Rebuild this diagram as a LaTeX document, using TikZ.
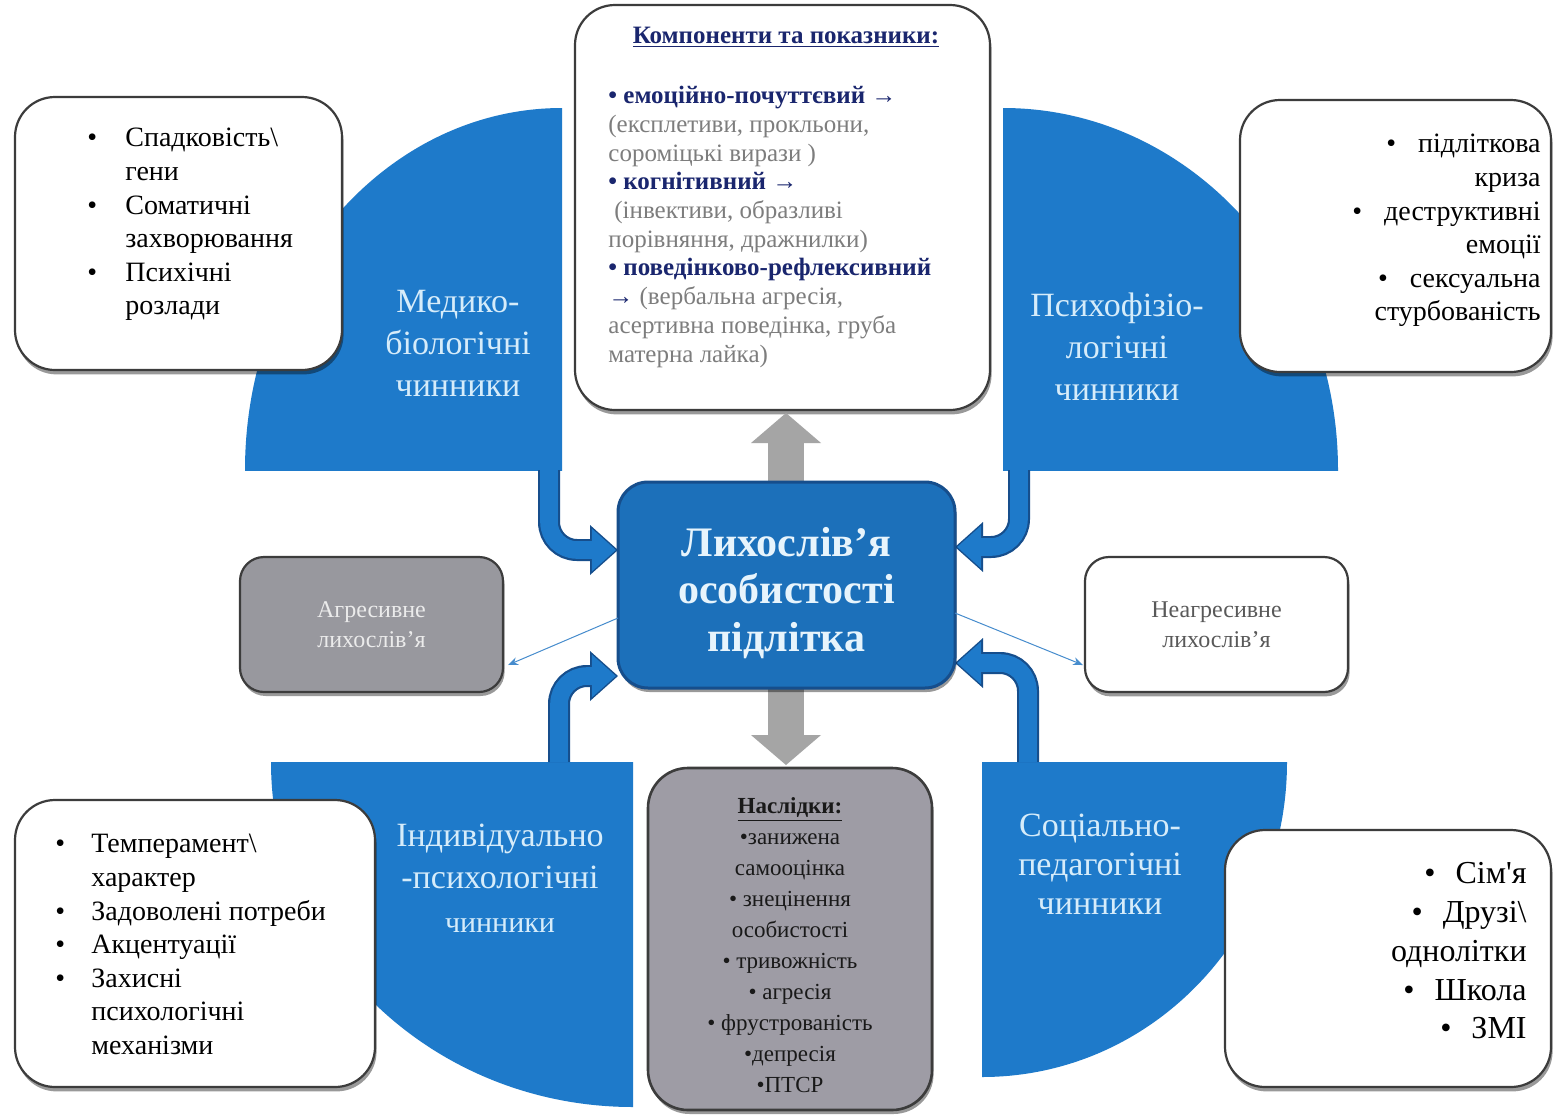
\documentclass[tikz,border=0pt]{standalone}
\usepackage{fontspec}
\setmainfont{Liberation Serif}
\newfontfamily\rawserif{Liberation Serif}
\usetikzlibrary{arrows.meta,shadows}
\definecolor{fblue}{RGB}{30,122,202}
\definecolor{bdark}{RGB}{22,78,140}
\definecolor{ltxt}{RGB}{214,236,250}
\definecolor{navy}{RGB}{26,38,110}
\definecolor{cgray}{RGB}{125,125,125}
\definecolor{agray}{RGB}{165,165,165}
\definecolor{boxgray}{RGB}{152,152,158}
\definecolor{consgray}{RGB}{158,156,165}
\definecolor{edgegray}{RGB}{60,60,60}
\definecolor{thinblue}{RGB}{70,140,205}
\newcommand\bul[2]{\makebox[#1][l]{•}#2}
\newcommand\ind[2]{\hspace*{#1}#2}
\tikzset{
  wbox/.style={draw=edgegray, line width=1.1pt, fill=white, rounded corners=20pt, inner sep=0pt,
    drop shadow={shadow xshift=0.8pt, shadow yshift=-2.2pt, opacity=0.4, fill=black}},
  listtxt/.style={inner sep=0pt, font=\fontsize{14}{16.8}\selectfont, text=black},
  bluetxt/.style={inner sep=0pt, align=center, text=ltxt, font=\fontsize{17}{21}\selectfont},
  bentouter/.style={draw=bdark, line width=11pt, rounded corners=14pt, -{Triangle[length=14pt,width=25pt,line width=0pt]}},
  bentinner/.style={draw=fblue, line width=8.8pt, rounded corners=14pt, shorten >=1.1pt, -{Triangle[length=12pt,width=21.5pt,line width=0pt]}},
  grayarr/.style={draw=agray, line width=18pt, -{Triangle[length=15pt,width=35pt,line width=0pt]}},
  thinarr/.style={draw=thinblue, line width=0.5pt, -{Stealth[length=5pt,width=4pt]}},
}
\begin{document}
\begin{tikzpicture}[x=0.5pt,y=-0.5pt]
\useasboundingbox (0,0) rectangle (1553,1114);
\fill[white] (0,0) rectangle (1553,1114);
% blue quarter shapes
\begin{scope}\clip (0,0) rectangle (562,470); \fill[fblue] (562,470) ellipse [x radius=317, y radius=362]; \end{scope}
\begin{scope}\clip (1003,0) rectangle (1553,470); \fill[fblue] (1003,470) ellipse [x radius=335, y radius=362]; \end{scope}
\begin{scope}\clip (0,762) rectangle (633,1114); \fill[fblue] (633,762) ellipse [x radius=362, y radius=345]; \end{scope}
\begin{scope}\clip (982,762) rectangle (1553,1114); \fill[fblue] (982,762) ellipse [x radius=305, y radius=315]; \end{scope}
% texts in blue shapes
\node[bluetxt] (medt) at (458,343) {Медико-\\біологічні\\чинники};
\node[bluetxt] (psyt) at (1117,347) {Психофізіо-\\логічні\\чинники};
\node[bluetxt, anchor=north] (indt) at (500,824) {Індивідуально\\-психологічні\\[1pt]{\fontsize{15}{18}\selectfont чинники}};
\node[bluetxt, font=\fontsize{17}{19.5}\selectfont] (soct) at (1100,864) {Соціально-\\педагогічні\\чинники};
% white boxes
\node[wbox, minimum width=163.5pt, minimum height=136.5pt] (tlbox) at (178.5,233.5) {};
\node[wbox, minimum width=207.5pt, minimum height=202.5pt] (comp) at (782.5,207.5) {};
\node[wbox, minimum width=155.5pt, minimum height=136pt] (trbox) at (1395.5,236) {};
\node[wbox, minimum width=180pt, minimum height=143.5pt] (blbox) at (195,943.5) {};
\node[wbox, minimum width=163pt, minimum height=128.5pt] (brbox) at (1388,958.5) {};
% lists
\node[listtxt, align=left, anchor=north west] (tlt) at (87,128) {\bul{19pt}{Спадковість\textbackslash}\\\ind{19pt}{гени}\\\bul{19pt}{Соматичні}\\\ind{19pt}{захворювання}\\\bul{19pt}{Психічні}\\\ind{19pt}{розлади}};
\node[listtxt, align=right, anchor=north east] (trt) at (1541,134) {•\hspace{11pt}підліткова\\криза\\•\hspace{11pt}деструктивні\\емоції\\•\hspace{11pt}сексуальна\\стурбованість};
\node[listtxt, align=left, anchor=north west] (blt) at (55,834) {\bul{18pt}{Темперамент\textbackslash}\\\ind{18pt}{характер}\\\bul{18pt}{Задоволені потреби}\\\bul{18pt}{Акцентуації}\\\bul{18pt}{Захисні}\\\ind{18pt}{психологічні}\\\ind{18pt}{механізми}};
\node[listtxt, font=\fontsize{16}{19.4}\selectfont, align=right, anchor=north east] (brt) at (1527,862) {•\hspace{10pt}{\rawserif Сім'я}\\•\hspace{10pt}Друзі\textbackslash\\однолітки\\•\hspace{10pt}Школа\\•\hspace{10pt}ЗМІ};
% components text
\node[inner sep=0pt, text=navy, font=\fontsize{12.5}{14}\selectfont\bfseries] (comph) at (786,37) {\underline{Компоненти та показники:}};
\node[inner sep=0pt, align=left, anchor=north west, text=cgray, font=\fontsize{12.5}{14.35}\selectfont] (compt) at (608,86) {{\bfseries\color{navy}• емоційно-почуттєвий →}\\(експлетиви, прокльони,\\сороміцькі вирази )\\{\bfseries\color{navy}• когнітивний →}\\\hspace*{3pt}(інвективи, образливі\\порівняння, дражнилки)\\{\bfseries\color{navy}• поведінково-рефлексивний}\\{\color{navy}→} (вербальна агресія,\\асертивна поведінка, груба\\матерна лайка)};
% bent arrows
\coordinate (tlS) at (549,470);
\coordinate (tlE) at (618,550);
\coordinate (trS) at (1019,470);
\coordinate (trE) at (955,547);
\coordinate (blS) at (559,762);
\coordinate (blE) at (618,676);
\coordinate (brS) at (1028,762);
\coordinate (brE) at (955,663);
\foreach \s/\e in {tlS/tlE, trS/trE, blS/blE, brS/brE} {
  \draw[bentouter] (\s) |- (\e);
  \draw[bentinner] (\s) |- (\e);
}
% gray arrows
\coordinate (upS) at (786,486);
\coordinate (upE) at (786,413);
\coordinate (dnS) at (786,686);
\coordinate (dnE) at (786,765);
\draw[grayarr] (upS) -- (upE);
\draw[grayarr] (dnS) -- (dnE);
% center box
\node[draw=bdark, line width=1.5pt, fill=fblue!92!black, rounded corners=15pt, minimum width=168.5pt, minimum height=103pt, inner sep=0pt, drop shadow={shadow xshift=0.8pt, shadow yshift=-2pt, opacity=0.4, fill=black}] (cbox) at (786.5,585) {};
\node[inner sep=0pt, align=center, text=ltxt!60!white, font=\fontsize{21}{23.8}\selectfont\bfseries] (ctext) at (786.5,593) {Лихослів’я\\особистості\\підлітка};
% side boxes
\node[draw=edgegray, line width=1.1pt, fill=boxgray, rounded corners=12pt, minimum width=131.5pt, minimum height=67.5pt, inner sep=0pt, align=center, text=white!92!black, font=\fontsize{12}{15}\selectfont, drop shadow={shadow xshift=0.8pt, shadow yshift=-2pt, opacity=0.4, fill=black}] (agr) at (371.5,624.5) {Агресивне\\лихослів’я};
\node[wbox, rounded corners=12pt, minimum width=131.5pt, minimum height=67.5pt, align=center, text=black!65, font=\fontsize{12}{15}\selectfont] (neagr) at (1216.5,624.5) {Неагресивне\\лихослів’я};
% consequences box
\node[draw=edgegray, line width=1.3pt, fill=consgray, rounded corners=20pt, minimum width=142pt, minimum height=171pt, inner sep=0pt, drop shadow={shadow xshift=0.8pt, shadow yshift=-2pt, opacity=0.4, fill=black}] (cons) at (790,939) {};
\node[inner sep=0pt, align=center, text=black!90, font=\fontsize{11.5}{15.5}\selectfont] (const) at (790,945) {{\bfseries\underline{Наслідки:}}\\•занижена\\самооцінка\\• знецінення\\особистості\\• тривожність\\• агресія\\• фрустрованість\\•депресія\\•ПТСР};
% thin arrows
\coordinate (aggS) at (618,618);
\coordinate (aggE) at (508,665);
\coordinate (neS) at (955,613);
\coordinate (neE) at (1083,665);
\draw[thinarr] (aggS) -- (aggE);
\draw[thinarr] (neS) -- (neE);
\end{tikzpicture}
\end{document}
